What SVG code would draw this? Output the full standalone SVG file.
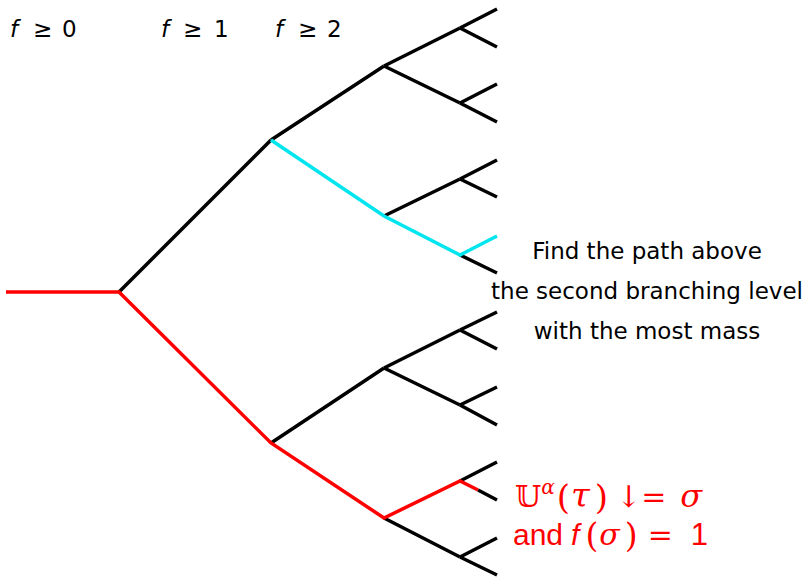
<svg xmlns="http://www.w3.org/2000/svg" width="810" height="577" viewBox="0 0 810 577">
<style>
.e{fill:none;stroke:#000;stroke-width:3.5;stroke-linecap:butt}
.r{stroke:#ff0000}
.c{stroke:#00e5ee}
.lab{font-family:"DejaVu Sans","Liberation Sans",sans-serif;font-size:23px;fill:#000}
.it{font-style:italic}
.note{font-family:"DejaVu Sans","Liberation Sans",sans-serif;font-size:23px;fill:#000;text-anchor:middle}
.red{font-family:"DejaVu Serif","DejaVu Sans",serif;font-size:30px;fill:#ff0000}
.rs{font-family:"Liberation Sans","DejaVu Sans",sans-serif;font-size:30px;fill:#ff0000}
.m{font-family:"DejaVu Serif",serif}
</style>
<rect width="810" height="577" fill="#fff"/>
<g id="connectors">
<path class="e" d="M460 28L497 9M460 28L497 47M460 103L497 84M460 103L497 122M460 179L497 160M460 179L497 197M460 255L497 273M460 330L497 312M460 330L497 349M460 405L497 387M460 405L497 425M460 481L497 462M478 490L497 500M460 557L497 538M460 557L497 575"/>
<path class="e" d="M384 66L460 28M384 66L460 103M384 216L460 179M384 368L460 330M384 368L460 405M384 518L460 557"/>
<path class="e" d="M271 140L384 66M271 443L384 368"/>
<path class="e" d="M119 292L271 140"/>
<path class="e c" d="M271 140L384 216L460 255L497 236"/>
<path class="e r" d="M6 292L119 292L271 443L384 518L460 481L478 490"/>
</g>
<g id="levels">
<text class="lab" y="37"><tspan class="it" x="10">f</tspan><tspan x="33">≥</tspan><tspan x="62">0</tspan></text>
<text class="lab" y="37"><tspan class="it" x="161">f</tspan><tspan x="183">≥</tspan><tspan x="214">1</tspan></text>
<text class="lab" y="37"><tspan class="it" x="275">f</tspan><tspan x="298">≥</tspan><tspan x="327">2</tspan></text>
</g>
<g id="note">
<text class="note" x="647" y="259">Find the path above</text>
<text class="note" x="647" y="299">the second branching level</text>
<text class="note" x="647" y="339">with the most mass</text>
</g>
<g id="result">
<text class="red" x="515" y="507">𝕌<tspan font-size="20" font-style="italic" dy="-13">α</tspan><tspan font-size="34" dx="2" dy="15">(</tspan><tspan font-size="34" font-style="italic" dx="1" dy="-2">τ</tspan><tspan font-size="34" dx="5" dy="2">)</tspan><tspan dx="8" dy="-2">↓</tspan><tspan>=</tspan><tspan font-size="32" font-style="italic" dx="14">σ</tspan></text>
<text class="rs" x="513" y="545">and<tspan class="it" dx="8">f</tspan><tspan class="m" font-size="33" dx="6" dy="2">(</tspan><tspan class="m it" dx="1" dy="-2">σ</tspan><tspan class="m" font-size="33" dx="5" dy="2">)</tspan><tspan class="m" dx="10" dy="-2">=</tspan><tspan dx="18" font-size="31">1</tspan></text>
</g>
</svg>
